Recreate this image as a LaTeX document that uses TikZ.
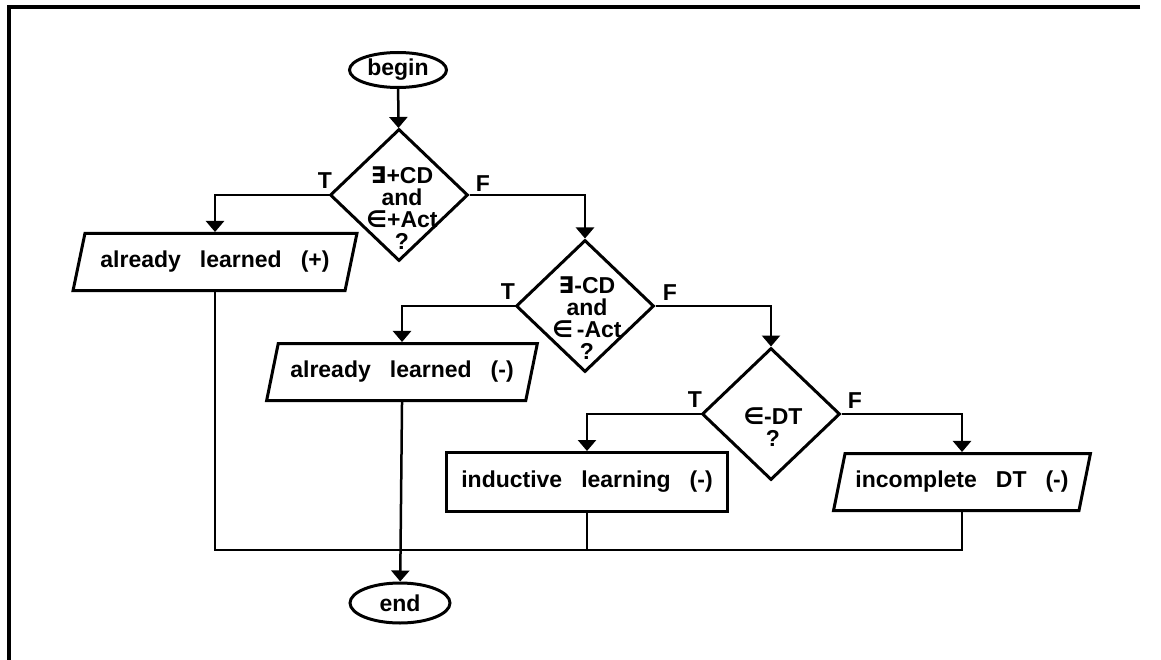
\documentclass[tikz,border=0pt]{standalone}
\usepackage{fontspec}
\setmainfont{Liberation Sans}
\newfontfamily\symfont{DejaVu Sans}
\usetikzlibrary{shapes.geometric,arrows.meta}
\newcommand{\exi}{{\symfont\bfseries ∃}}
\newcommand{\elem}{{\symfont\bfseries ∈}}
\newcommand{\wordgap}{\spaceskip=19pt plus 2pt\relax}

\tikzset{
  txt/.style={font=\fontsize{23}{22}\selectfont\bfseries\wordgap},
  shapeline/.style={draw, line width=3pt, txt},
  term/.style={shapeline, ellipse, inner sep=0pt, minimum width=97pt, minimum height=35pt},
  dia/.style={shapeline, diamond, inner sep=0pt, minimum width=138pt, minimum height=132pt},
  dtxt/.style={txt, align=center, inner sep=0pt},
  para/.style={shapeline, trapezium, trapezium left angle=64, trapezium right angle=116,
    trapezium stretches=true, inner sep=0pt, minimum height=57pt},
  stepbox/.style={shapeline, rectangle, inner sep=0pt, minimum width=281pt, minimum height=59pt},
  conn/.style={line width=2.5pt},
  arr/.style={conn, -{Triangle[width=18pt,length=11pt]}},
  lab/.style={txt, inner sep=0pt},
  frame/.style={line width=4pt}
}

\begin{document}
\begin{tikzpicture}[x=1pt, y=-1pt]
  \useasboundingbox (0,0) rectangle (1161,660);

  % page frame (top and left rules)
  \draw[frame] (1140,7) -- (9,7) -- (9,660);

  % terminals
  \node[term] (begin) at (398,70) {begin};
  \node[term, minimum width=100pt, minimum height=40pt] (end) at (400,603) {end};

  % decisions
  \node[dia] (d1) at (399,195) {};
  \node[dtxt] (d1t) at (402,208) {\exi+CD\\and\\\elem+Act\\?};
  \node[dia] (d2) at (585,306) {};
  \node[dtxt] (d2t) at (587,318) {\exi-CD\\and\\\elem\,-Act\\?};
  \node[dia] (d3) at (771,414) {};
  \node[dtxt] (d3t) at (773,427) {\elem-DT\\?};

  % outcomes
  \node[para, minimum width=284pt] (p1) at (215,262) {already learned (+)};
  \node[para, minimum width=271pt] (p2) at (402,372) {already learned (-)};
  \node[stepbox] (r) at (587,482) {inductive learning (-)};
  \node[para, minimum width=257pt] (p3) at (962,482) {incomplete DT (-)};

  % branch labels
  \node[lab] (t1) at (325,181) {T};
  \node[lab] (f1) at (483,184) {F};
  \node[lab] (t2) at (508,292) {T};
  \node[lab] (f2) at (670,293) {F};
  \node[lab] (t3) at (695,400) {T};
  \node[lab] (f3) at (855,401) {F};

  % connectors
  \draw[arr] (begin) -- (d1);
  \draw[arr] (d1.west) -| (p1.north);
  \draw[arr] (d1.east) -| (d2.north);
  \draw[arr] (d2.west) -| (p2.north);
  \draw[arr] (d2.east) -| (d3.north);
  \draw[arr] (d3.west) -| (r.north);
  \draw[arr] (d3.east) -| (p3.north);

  \coordinate (join) at (400,550);
  \draw[conn] (p1.south) |- (join);
  \draw[conn] (p3.south) |- (join);
  \draw[conn] (r.south) -- (r.south |- join);
  \draw[arr] (p2.south) -- (end);
\end{tikzpicture}
\end{document}
